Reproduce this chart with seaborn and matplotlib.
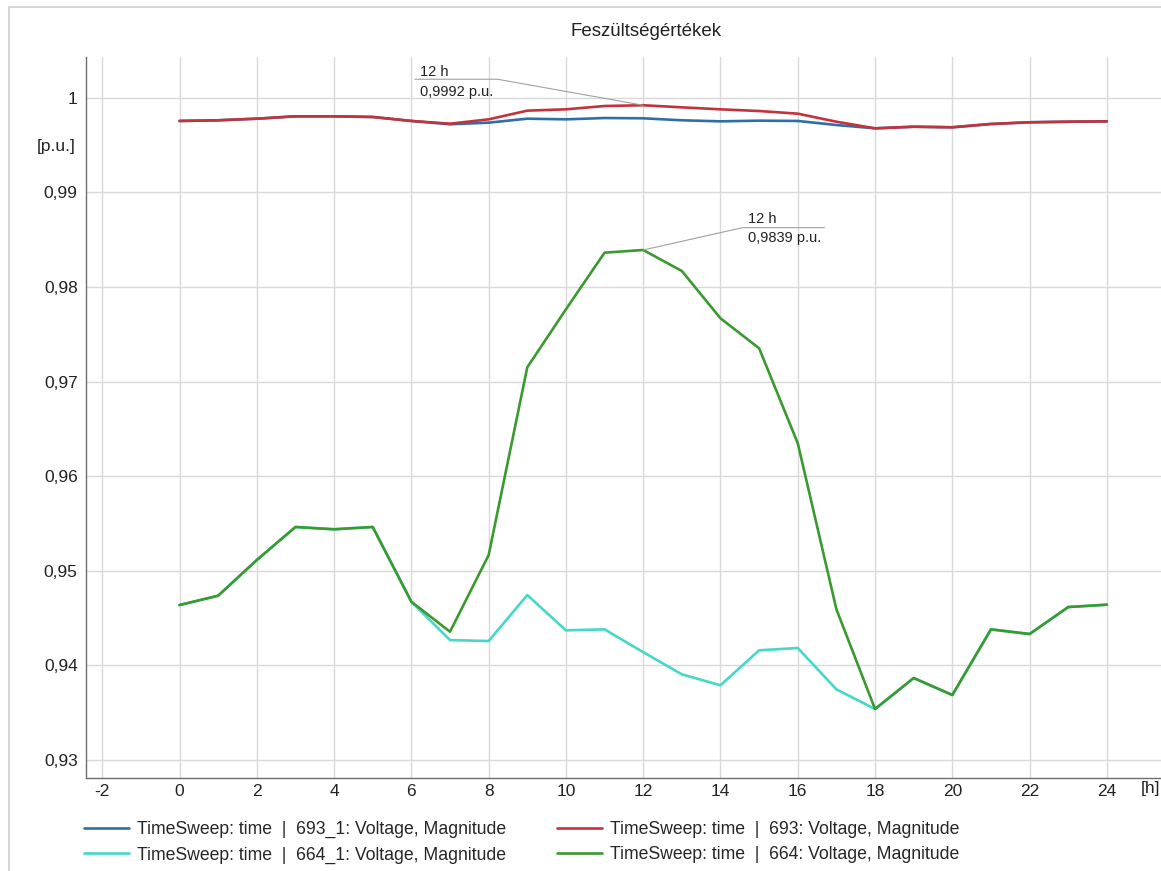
import matplotlib
matplotlib.use("Agg")
import matplotlib.pyplot as plt
import matplotlib.transforms as mtransforms
from matplotlib.patches import Rectangle
from matplotlib.ticker import FuncFormatter, MultipleLocator
import numpy as np
import pandas as pd
import seaborn as sns

sns.set_style("white")
plt.rcParams["font.family"] = ["Liberation Sans", "DejaVu Sans"]
plt.rcParams["axes.unicode_minus"] = False

# ==============================
# Dados (leitura do gráfico)
# ==============================

horas = list(range(0, 25))

v_693_1 = [0.99754, 0.99761, 0.99778, 0.99803, 0.99803, 0.99796, 0.99754, 0.99719,
           0.99736, 0.99778, 0.99771, 0.99785, 0.99782, 0.99761, 0.99750, 0.99757,
           0.99754, 0.99711, 0.99676, 0.99693, 0.99687, 0.99722, 0.99740, 0.99746,
           0.99750]

v_693 = [0.99754, 0.99761, 0.99778, 0.99803, 0.99803, 0.99796, 0.99754, 0.99725,
         0.99771, 0.99863, 0.99877, 0.99912, 0.99920, 0.99898, 0.99877, 0.99859,
         0.99831, 0.99746, 0.99676, 0.99693, 0.99687, 0.99722, 0.99740, 0.99746,
         0.99750]

v_664_1 = [0.94637, 0.94736, 0.95113, 0.95462, 0.95438, 0.95462, 0.94672, 0.94267,
           0.94257, 0.94743, 0.94370, 0.94380, 0.94139, 0.93905, 0.93789, 0.94159,
           0.94183, 0.93746, 0.93538, 0.93866, 0.93686, 0.94380, 0.94331, 0.94616,
           0.94641]

v_664 = [0.94637, 0.94736, 0.95113, 0.95462, 0.95438, 0.95462, 0.94672, 0.94355,
         0.95165, 0.97150, 0.97763, 0.98362, 0.98390, 0.98168, 0.97668, 0.97351,
         0.96347, 0.94592, 0.93538, 0.93866, 0.93686, 0.94380, 0.94331, 0.94616,
         0.94641]

nomes = [
    "TimeSweep: time  |  693_1: Voltage, Magnitude",
    "TimeSweep: time  |  693: Voltage, Magnitude",
    "TimeSweep: time  |  664_1: Voltage, Magnitude",
    "TimeSweep: time  |  664: Voltage, Magnitude",
]
cores = ["#2f6fa8", "#c4323c", "#45d8c8", "#3a9a30"]

df = pd.concat([
    pd.DataFrame({"h": horas, "v": serie, "serie": nome})
    for nome, serie in zip(nomes, [v_693_1, v_693, v_664_1, v_664])
])

# ==============================
# Gráfico
# ==============================

fig = plt.figure(figsize=(11.61, 8.71), dpi=100)
ax = fig.add_axes([86 / 1161, 1 - 778 / 871, 1 - 86 / 1161, (778 - 57) / 871])

# moldura externa cinza clara
fig.patches.append(Rectangle((9 / 1161, -0.1), 1.2, 1.1 - 7 / 871, transform=fig.transFigure,
                             fill=False, edgecolor="#cfcfcf", linewidth=1.2))

sns.lineplot(data=df, x="h", y="v", hue="serie", hue_order=nomes, palette=cores,
             linewidth=1.9, ax=ax, legend=False, sort=False)

ax.set_xlim(-2.42, 25.4)
ax.set_ylim(0.92809, 1.0043)

ax.xaxis.set_major_locator(MultipleLocator(2))
ax.xaxis.set_minor_locator(MultipleLocator(1))
ax.yaxis.set_major_locator(MultipleLocator(0.01))
ax.yaxis.set_minor_locator(MultipleLocator(0.0025))
ax.set_xticks(list(range(-2, 25, 2)))


def fmt_y(v, pos):
    s = f"{v:.2f}".rstrip("0").rstrip(".")
    return s.replace(".", ",")


ax.yaxis.set_major_formatter(FuncFormatter(fmt_y))
ax.grid(True, which="major", color="#d9d9d9", linewidth=1.0)
ax.set_axisbelow(True)

for s in ["top", "right"]:
    ax.spines[s].set_visible(False)
for s in ["left", "bottom"]:
    ax.spines[s].set_color("#6e6e6e")
    ax.spines[s].set_linewidth(1.0)

ax.tick_params(axis="both", which="both", direction="in", color="#8a8a8a",
               labelsize=12.5, labelcolor="#222222")
ax.tick_params(axis="both", which="major", length=6)
ax.tick_params(axis="both", which="minor", length=5)
ax.tick_params(axis="y", pad=6)
ax.tick_params(axis="x", pad=4)
ax.set_xlabel("")
ax.set_ylabel("")

# unidade do eixo y
trans = mtransforms.blended_transform_factory(ax.transAxes, ax.transData)
ax.text(-0.0095, 0.99482, "[p.u.]", transform=trans, ha="right", va="center",
        fontsize=12.5, color="#222222")
fig.text(1150 / 1161, 1 - 788 / 871, "[h]", ha="center", va="center",
         fontsize=12.5, color="#222222")

fig.text(646 / 1161, 1 - 32 / 871, "Feszültségértékek", ha="center", va="center",
         fontsize=13.5, color="#222222")

# ==============================
# Anotações (12 h)
# ==============================


def anotar(x, y, joelho, fim, txt_x, y1, y2, valor):
    ax.plot([x, joelho[0], fim], [y, joelho[1], joelho[1]], color="#a0a0a0",
            linewidth=0.8, zorder=5)
    ax.text(txt_x, y1, f"{x} h", fontsize=10.5, ha="left", va="center", color="#222222")
    ax.text(txt_x, y2, f"{valor:.4f} p.u.".replace(".", ",", 1), fontsize=10.5,
            ha="left", va="center", color="#222222")


anotar(horas[12], v_693[12], (8.23, 1.00195), 6.09, 6.23, 1.00275, 1.00063, v_693[12])
anotar(horas[12], v_664[12], (14.57, 0.98626), 16.69, 14.70, 0.98715, 0.98514, v_664[12])

# ==============================
# Legenda
# ==============================

handles = [plt.Line2D([], [], color=c, linewidth=1.9) for c in cores]
ordem = [0, 2, 1, 3]
fig.legend([handles[i] for i in ordem], [nomes[i] for i in ordem], ncol=2,
           loc="upper left", bbox_to_anchor=(84 / 1161, 1 - 821 / 871),
           frameon=False, fontsize=12.7, handlelength=2.55, handletextpad=0.45,
           columnspacing=2.9, labelspacing=0.47, borderpad=0, borderaxespad=0)

fig.savefig("out.png", dpi=100)
